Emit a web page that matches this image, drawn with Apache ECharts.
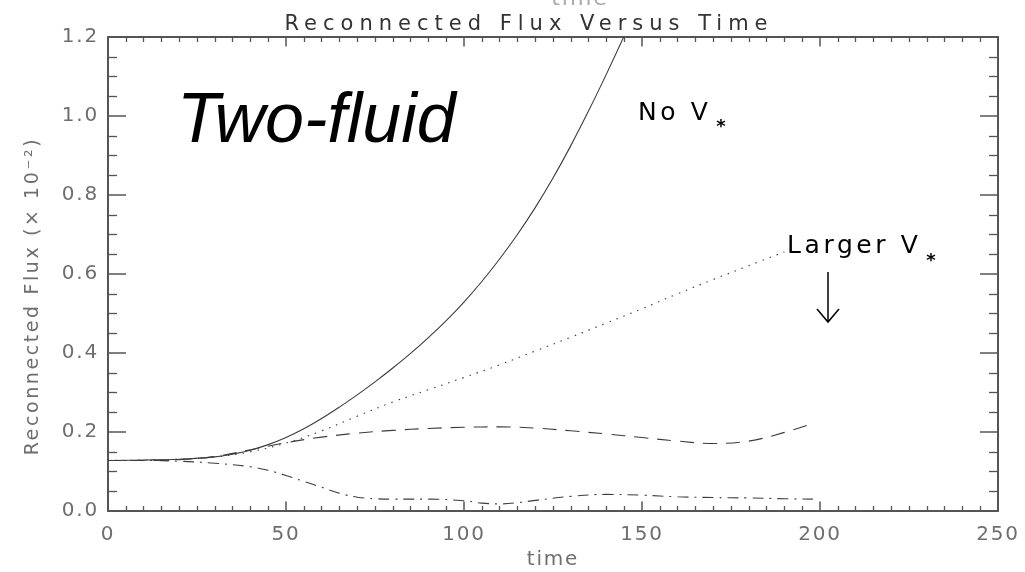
<!DOCTYPE html>
<html>
<head>
<meta charset="utf-8">
<script src="https://cdn.jsdelivr.net/npm/echarts@6/dist/echarts.min.js"></script>
<style>
html,body{margin:0;padding:0;background:#fff;}
#chart{width:1025px;height:572px;}
</style>
</head>
<body>
<div id="chart"></div>
<script>
// ---- data ----
const titleText = 'Reconnected Flux Versus Time';
const xName = 'time';
const yName = 'Reconnected Flux (\u00d7 10\u207b\u00b2)';

const tNoV = [0,10,20,30,35,40,45,50,55,60,65,70,75,80,85,90,95,100,105,110,115,120,125,130,135,140,145];
const fluxNoV = [0.128,0.129,0.131,0.137,0.144,0.154,0.168,0.186,0.208,0.234,0.263,0.294,0.327,0.362,0.399,0.439,0.482,0.529,0.581,0.638,0.700,0.768,0.843,0.925,1.013,1.106,1.203];

const tDotted = [0,10,20,30,40,50,60,70,80,90,100,110,120,130,140,150,160,170,180,190];
const fluxDotted = [0.128,0.129,0.131,0.137,0.150,0.172,0.203,0.240,0.276,0.307,0.338,0.370,0.405,0.440,0.476,0.512,0.550,0.586,0.621,0.656];

const tDashed = [0,10,20,30,40,50,60,70,80,90,100,110,120,130,140,150,160,170,180,190,198];
const fluxDashed = [0.128,0.128,0.130,0.138,0.155,0.173,0.187,0.197,0.204,0.209,0.212,0.213,0.210,0.203,0.195,0.186,0.177,0.171,0.177,0.199,0.222];

const tDashDot = [0,10,20,30,40,45,50,55,60,65,70,75,80,90,100,105,110,115,120,130,140,150,160,170,180,190,198];
const fluxDashDot = [0.128,0.128,0.126,0.121,0.112,0.103,0.090,0.075,0.060,0.045,0.035,0.031,0.030,0.030,0.026,0.020,0.018,0.021,0.027,0.037,0.042,0.040,0.036,0.034,0.033,0.031,0.030];

const labelTwoFluid = 'Two-fluid';
const labelNoV = 'No V';
const labelLarger = 'Larger V';
const starGlyph = '*';

function pairs(t, v){ return t.map((x,i)=>[x, v[i]]); }

// wide plotter-style lettering: extra letter spacing keyed by font size
const SPACING = {'21':'6px','20':'1.8px','22':'2px','19':'2.6px','25':'3.6px'};
(function(){
  const proto = CanvasRenderingContext2D.prototype;
  const orig = proto.fillText;
  proto.fillText = function(t, x, y, w){
    const m = /(\d+(?:\.\d+)?)px/.exec(this.font || '');
    const sp = m ? SPACING[m[1]] : null;
    const prev = this.letterSpacing;
    if (sp && 'letterSpacing' in this) this.letterSpacing = sp;
    const r = (w === undefined) ? orig.call(this, t, x, y) : orig.call(this, t, x, y, w);
    if (sp && 'letterSpacing' in this) this.letterSpacing = prev || '0px';
    return r;
  };
})();

const axisColor = '#555';
const labelColor = '#6e6e6e';
const font = 'DejaVu Sans';

function xAxisCfg(pos, showLabel){
  return {
    type:'value', position:pos, min:0, max:250, interval:50,
    name: showLabel ? xName : '',
    nameLocation:'middle', nameGap:36,
    nameTextStyle:{color:labelColor, fontSize:20, fontFamily:font},
    axisLine:{show:true, onZero:false, lineStyle:{color:axisColor, width:2}},
    axisTick:{show:true, inside:true, length:9.5, lineStyle:{color:axisColor, width:1.5}},
    minorTick:{show:true, splitNumber:10, length:5, lineStyle:{color:axisColor, width:1.3}},
    splitLine:{show:false}, minorSplitLine:{show:false},
    axisLabel:{show:showLabel, color:labelColor, fontSize:20, fontFamily:font, margin:14}
  };
}
function yAxisCfg(pos, showLabel){
  return {
    type:'value', position:pos, min:0, max:1.2, interval:0.2,
    axisLine:{show:true, onZero:false, lineStyle:{color:axisColor, width:2}},
    axisTick:{show:true, inside:true, length:18, lineStyle:{color:axisColor, width:1.5}},
    minorTick:{show:true, splitNumber:4, length:9, lineStyle:{color:axisColor, width:1.3}},
    splitLine:{show:false}, minorSplitLine:{show:false},
    axisLabel:{show:showLabel, color:labelColor, fontSize:20, fontFamily:font, margin:9,
      formatter:v=>v.toFixed(1)}
  };
}

const lineColor = '#3c3c3c';
function seriesCfg(name, data, type){
  return {
    name, type:'line', data, showSymbol:false, symbol:'none', smooth:0.4, clip:true,
    xAxisIndex:0, yAxisIndex:0, animation:false,
    lineStyle:{color:lineColor, width:1.1, type}
  };
}

const chart = echarts.init(document.getElementById('chart'), null, {renderer:'canvas'});
chart.setOption({
  animation:false,
  backgroundColor:'#ffffff',
  grid:{left:108, right:27, top:37, bottom:61, containLabel:false, outerBoundsMode:'none'},
  xAxis:[xAxisCfg('bottom', true), xAxisCfg('top', false)],
  yAxis:[yAxisCfg('left', true), yAxisCfg('right', false)],
  series:[
    seriesCfg('No V*', pairs(tNoV, fluxNoV), 'solid'),
    seriesCfg('Larger V*', pairs(tDotted, fluxDotted), [1.5, 6]),
    seriesCfg('dashed', pairs(tDashed, fluxDashed), [14, 9]),
    seriesCfg('dash-dot', pairs(tDashDot, fluxDashDot), [11, 6, 2, 6])
  ],
  graphic:[
    {type:'text', x:529, y:24.5, style:{text:titleText, fill:'#333', font:'21px "DejaVu Sans"', textAlign:'center', textVerticalAlign:'middle'}},
    {type:'text', x:580, y:-1, style:{text:xName, fill:'#aaa', font:'22px "DejaVu Sans"', textAlign:'center', textVerticalAlign:'middle'}},
    {type:'text', x:33, y:296, rotation:Math.PI/2, style:{text:yName, fill:labelColor, font:'19px "DejaVu Sans"', textAlign:'center', textVerticalAlign:'middle'}},
    {type:'text', x:177, y:123, style:{text:labelTwoFluid, fill:'#000', font:'italic 70px "Liberation Sans"', textAlign:'left', textVerticalAlign:'middle'}},
    {type:'text', x:638, y:113.5, style:{text:labelNoV, fill:'#000', font:'25px "DejaVu Sans"', textAlign:'left', textVerticalAlign:'middle'}},
    {type:'text', x:721, y:127, style:{text:starGlyph, fill:'#000', font:'bold 18px "DejaVu Sans"', textAlign:'center', textVerticalAlign:'middle'}},
    {type:'text', x:787, y:246.5, style:{text:labelLarger, fill:'#000', font:'25px "DejaVu Sans"', textAlign:'left', textVerticalAlign:'middle'}},
    {type:'text', x:931, y:261, style:{text:starGlyph, fill:'#000', font:'bold 18px "DejaVu Sans"', textAlign:'center', textVerticalAlign:'middle'}},
    {type:'line', shape:{x1:828, y1:272, x2:828, y2:322}, style:{stroke:'#000', lineWidth:1.5}},
    {type:'polyline', shape:{points:[[817,309],[828,322],[839,309]]}, style:{stroke:'#000', lineWidth:1.5, fill:null}}
  ]
});
</script>
</body>
</html>
